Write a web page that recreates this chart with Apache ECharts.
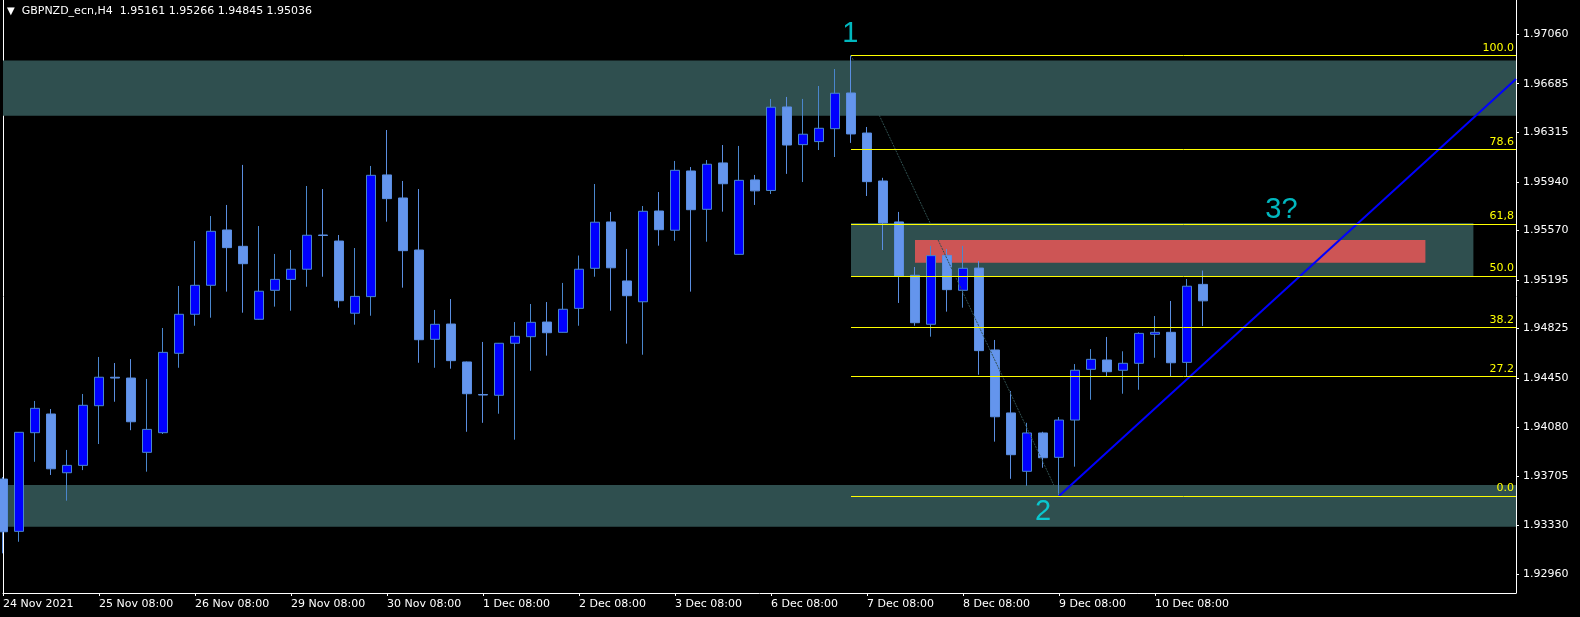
<!DOCTYPE html>
<html>
<head>
<meta charset="utf-8">
<script src="https://cdn.jsdelivr.net/npm/echarts@6/dist/echarts.min.js"></script>
<style>
html,body{margin:0;padding:0;background:#000;}
#c{width:1580px;height:617px;}
</style>
</head>
<body>
<div id="c"></div>
<script>
// ---------- DATA ----------
const headerText = 'GBPNZD_ecn,H4  1.95161 1.95266 1.94845 1.95036';
const dateLabels = ['24 Nov 2021','25 Nov 08:00','26 Nov 08:00','29 Nov 08:00','30 Nov 08:00','1 Dec 08:00','2 Dec 08:00','3 Dec 08:00','6 Dec 08:00','7 Dec 08:00','8 Dec 08:00','9 Dec 08:00','10 Dec 08:00'];
const dateTickIdx = [0,6,12,18,24,30,36,42,48,54,60,66,72];
const opens = [1.93683,1.93286,1.94035,1.94177,1.93731,1.93787,1.94240,1.94456,1.94450,1.93886,
1.94035,1.94638,1.94934,1.95154,1.95574,1.95450,1.94896,1.95116,1.95199,1.95276,
1.95536,1.95490,1.94942,1.95068,1.95992,1.95817,1.95422,1.94744,1.94860,1.94572,
1.94325,1.94319,1.94714,1.94764,1.94875,1.94797,1.94979,1.95283,1.95635,1.95187,
1.95029,1.95718,1.95572,1.96022,1.95731,1.96083,1.95389,1.95954,1.95874,1.96508,
1.96222,1.96245,1.96343,1.96614,1.96310,1.95946,1.95635,1.95230,1.94858,1.95381,
1.95116,1.95285,1.94663,1.94185,1.93742,1.94033,1.93848,1.94131,1.94516,1.94587,
1.94509,1.94562,1.94782,1.94797,1.94569,1.95161];
const closes = [1.93283,1.94038,1.94220,1.93761,1.93787,1.94243,1.94456,1.94450,1.94118,1.94060,
1.94645,1.94934,1.95154,1.95564,1.95440,1.95318,1.95109,1.95199,1.95276,1.95534,
1.95532,1.95037,1.95070,1.95989,1.95812,1.95417,1.94741,1.94858,1.94582,1.94331,
1.94321,1.94714,1.94767,1.94873,1.94794,1.94972,1.95276,1.95633,1.95287,1.95075,
1.95716,1.95576,1.96027,1.95728,1.96073,1.95925,1.95951,1.95871,1.96506,1.96219,
1.96301,1.96346,1.96612,1.96303,1.95941,1.95627,1.95225,1.94870,1.95379,1.95121,
1.95283,1.94658,1.94156,1.93868,1.94033,1.93845,1.94131,1.94509,1.94592,1.94498,
1.94562,1.94789,1.94797,1.94566,1.95147,1.95036];
const highs = [1.93698,1.94040,1.94276,1.94215,1.93904,1.94329,1.94610,1.94564,1.94594,1.94443,
1.94830,1.95149,1.95490,1.95680,1.95764,1.96068,1.95604,1.95392,1.95422,1.95908,
1.95885,1.95536,1.95437,1.96060,1.96333,1.95946,1.95885,1.94967,1.95050,1.94575,
1.94724,1.94716,1.94875,1.95012,1.95027,1.95172,1.95380,1.95923,1.95711,1.95430,
1.95756,1.95862,1.96098,1.96052,1.96105,1.96219,1.96212,1.95992,1.96569,1.96584,
1.96569,1.96667,1.96796,1.96899,1.96356,1.95970,1.95711,1.95293,1.95453,1.95430,
1.95453,1.95338,1.94739,1.94351,1.94110,1.94042,1.94154,1.94556,1.94670,1.94762,
1.94653,1.94797,1.94921,1.95035,1.95202,1.95266];
const lows = [1.93119,1.93207,1.93814,1.93714,1.93519,1.93751,1.93949,1.94270,1.94054,1.93739,
1.94025,1.94528,1.94847,1.94908,1.95106,1.94946,1.94893,1.94992,1.94961,1.95143,
1.95219,1.94984,1.94855,1.94923,1.95637,1.95136,1.94566,1.94528,1.94521,1.94042,
1.94110,1.94179,1.93982,1.94505,1.94620,1.94795,1.94847,1.95219,1.94961,1.94711,
1.94627,1.95455,1.95492,1.95106,1.95485,1.95713,1.95387,1.95764,1.95847,1.96000,
1.95938,1.96181,1.96128,1.96235,1.95832,1.95422,1.95020,1.94847,1.94764,1.94954,
1.94984,1.94475,1.93967,1.93685,1.93632,1.93769,1.93554,1.93777,1.94285,1.94465,
1.94331,1.94361,1.94604,1.94465,1.94465,1.94845];
const priceTicks = [1.97060,1.96685,1.96315,1.95940,1.95570,1.95195,1.94825,1.94450,1.94080,1.93705,1.93330,1.92960];
const lastPrice = 1.95036;
const yMin = 1.92818, yMax = 1.97320;
const xMax = 94.5625;
// Fibonacci retracement: anchored at bar 53 (high) and bar 66 (low)
const fibAnchorIdx = [53, 66];
const fibHigh = 1.96899, fibLow = 1.93554;
const fibLevels = [100, 78.6, 61.8, 50, 38.2, 27.2, 0];
const fibLevelText = ['100.0','78.6','61,8','50.0','38.2','27.2','0.0'];
// zones: [xStart, xEnd, priceTop, priceBottom]
const teal1 = [0, xMax, 1.96860, 1.96442];
const teal2 = [0, xMax, 1.93638, 1.93321];
const teal3 = [53, 91.9, 1.95627, 1.95222];
const redZone = [57, 88.9, 1.95498, 1.95326];
// trend line
const trendPts = [[66, 1.93554], [xMax, 1.96720]];
// wave labels [x, price, text]
const waveMarks = [[52.95, 1.97060, '1'], [65.0, 1.93433, '2'], [79.9, 1.95726, '3?']];

// ---------- CHART ----------
const FONT = 'DejaVu Sans';
const candleData = opens.map((o, i) => [i, o, closes[i], lows[i], highs[i]]);
const fibPrice = l => fibLow + (fibHigh - fibLow) * l / 100;
const zoneArea = (z, color) => [
  {coord: [z[0], z[2]], itemStyle: {color: color, opacity: 1}},
  {coord: [z[1], z[3]]}
];

const chart = echarts.init(document.getElementById('c'), null, {renderer: 'canvas'});
chart.setOption({
  animation: false,
  backgroundColor: '#000000',
  title: {
    text: '{t|▼}  ' + headerText,
    left: 7, top: 6, padding: 0,
    textStyle: {
      color: '#ffffff', fontSize: 11, fontWeight: 'normal', fontFamily: FONT,
      rich: {t: {color: '#ffffff', fontSize: 10, fontFamily: FONT}}
    }
  },
  grid: {left: 3, right: 64, top: 0, bottom: 24, show: false},
  xAxis: {
    type: 'value', min: 0, max: xMax,
    axisLine: {show: true, onZero: false, lineStyle: {color: '#ffffff', width: 1}},
    axisTick: {show: true, length: 3, customValues: dateTickIdx, lineStyle: {color: '#ffffff'}},
    axisLabel: {
      show: true, customValues: dateTickIdx, align: 'left', margin: 6,
      color: '#ffffff', fontSize: 11, fontFamily: FONT,
      formatter: v => dateLabels[dateTickIdx.indexOf(Math.round(v))] || ''
    },
    splitLine: {show: false}
  },
  yAxis: [{
    type: 'value', position: 'right', min: yMin, max: yMax,
    axisLine: {show: true, onZero: false, lineStyle: {color: '#ffffff', width: 1}},
    axisTick: {show: true, length: 3, customValues: priceTicks, lineStyle: {color: '#ffffff'}},
    axisLabel: {
      show: true, customValues: priceTicks, margin: 7,
      color: '#ffffff', fontSize: 11, fontFamily: FONT,
      formatter: v => v.toFixed(5)
    },
    splitLine: {show: false}
  }, {
    type: 'value', position: 'left', min: yMin, max: yMax,
    axisLine: {show: true, onZero: false, lineStyle: {color: '#ffffff', width: 1}},
    axisTick: {show: false}, axisLabel: {show: false}, splitLine: {show: false}
  }],
  series: [
    {
      name: 'zones', type: 'line', data: [], z: 1, silent: true,
      markArea: {
        silent: true,
        data: [
          zoneArea(teal1, '#2f4f4f'),
          zoneArea(teal2, '#2f4f4f'),
          zoneArea(teal3, '#2f4f4f'),
          zoneArea(redZone, '#cd5555')
        ]
      }
    },
    {
      name: 'GBPNZD', type: 'candlestick', z: 2, clip: true,
      dimensions: ['idx', 'open', 'close', 'lowest', 'highest'],
      encode: {x: 0, y: [1, 2, 3, 4]},
      data: candleData,
      barWidth: 10,
      itemStyle: {
        color: '#0000ff', color0: '#6495ed',
        borderColor: '#4a86cc', borderColor0: '#5b8ee0', borderWidth: 1
      },
      markLine: {
        silent: true, symbol: ['none', 'none'],
        lineStyle: {opacity: 0},
        label: {
          position: 'end', distance: 5, formatter: lastPrice.toFixed(5),
          color: '#000000', backgroundColor: '#ffffff', padding: [2, 3, 1, 2],
          fontSize: 11, fontFamily: FONT
        },
        data: [{yAxis: lastPrice}]
      }
    },
    {
      name: 'fib', type: 'line', z: 3, silent: true, symbol: 'none',
      data: [[fibAnchorIdx[0], fibHigh], [fibAnchorIdx[1], fibLow]],
      lineStyle: {color: '#2f4f4f', width: 1, type: [2, 1]},
      markLine: {
        silent: true, symbol: ['none', 'none'],
        lineStyle: {color: '#ffff00', width: 1, type: 'solid'},
        label: {
          show: true, position: 'insideEndTop', distance: [2, 2],
          color: '#ffff00', fontSize: 11, fontFamily: FONT
        },
        data: fibLevels.map((l, k) => [
          {coord: [fibAnchorIdx[0], fibPrice(l)], label: {formatter: fibLevelText[k]}},
          {coord: [xMax, fibPrice(l)]}
        ])
      }
    },
    {
      name: 'trend', type: 'line', z: 4, silent: true, symbol: 'none',
      data: trendPts,
      lineStyle: {color: '#0000ff', width: 2}
    },
    {
      name: 'waves', type: 'scatter', z: 5, silent: true,
      symbolSize: 0,
      data: waveMarks.map(w => [w[0], w[1]]),
      label: {
        show: true, position: 'inside',
        formatter: p => waveMarks[p.dataIndex][2],
        color: '#00e5ee', fontSize: 29, fontFamily: 'Liberation Sans'
      }
    }
  ]
});
</script>
</body>
</html>
